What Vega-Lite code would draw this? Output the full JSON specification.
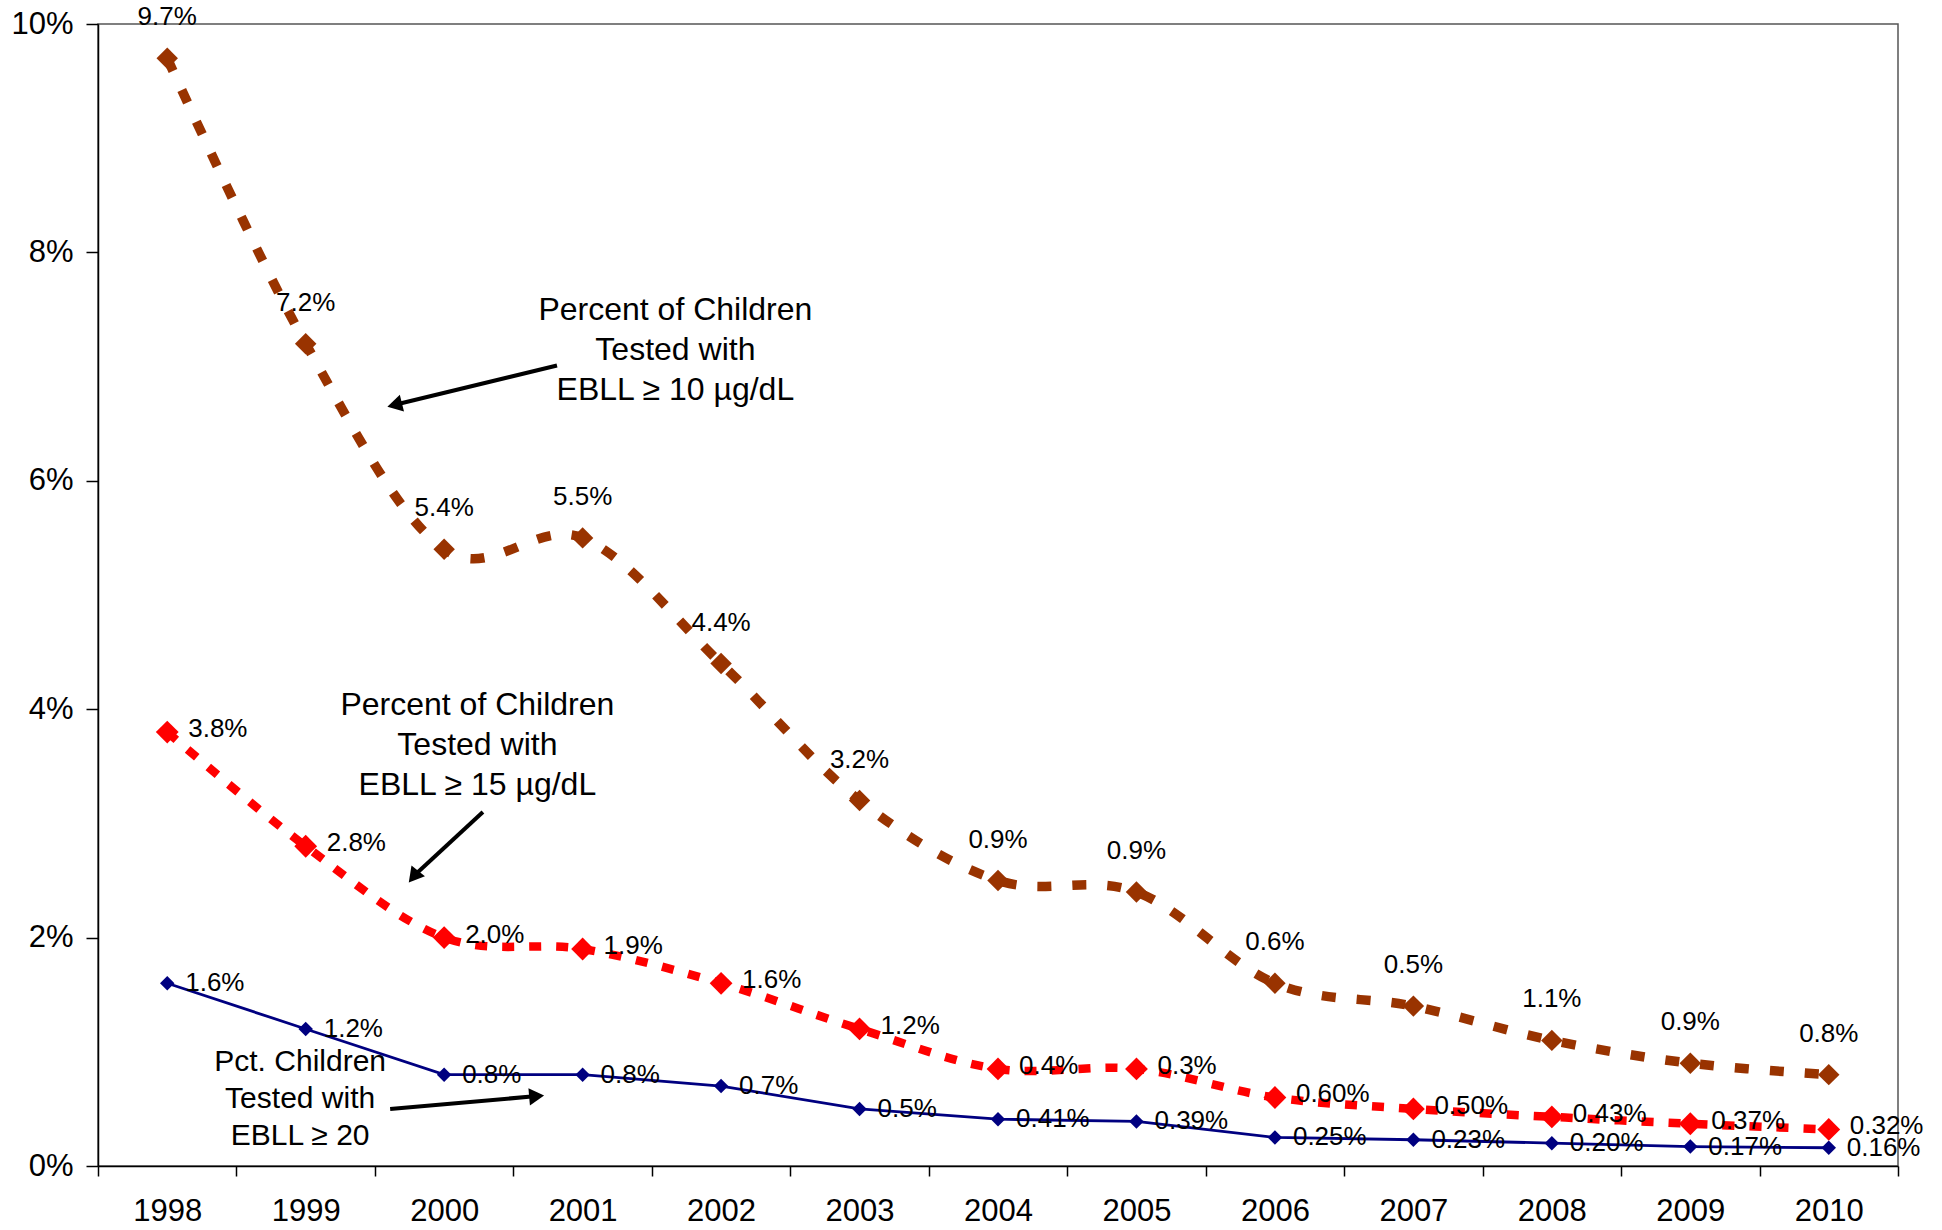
{
  "$schema": "https://vega.github.io/schema/vega-lite/v6.json",
  "width": 1800,
  "height": 1142,
  "autosize": {"type": "none"},
  "padding": {"left": 98, "top": 24, "right": 44, "bottom": 64},
  "background": "white",
  "config": {
    "font": "Liberation Sans",
    "view": {"stroke": "#555555", "strokeWidth": 1.5},
    "axis": {"grid": false, "title": null, "domainColor": "#000000", "tickColor": "#000000", "labelColor": "#000000", "domainWidth": 1.5, "tickWidth": 1.5, "labelFont": "Liberation Sans"}
  },
  "datasets": {
    "series": [
      {"year": 1998, "series": "EBLL10", "value": 9.7, "label": "9.7%"},
      {"year": 1999, "series": "EBLL10", "value": 7.2, "label": "7.2%"},
      {"year": 2000, "series": "EBLL10", "value": 5.4, "label": "5.4%"},
      {"year": 2001, "series": "EBLL10", "value": 5.5, "label": "5.5%"},
      {"year": 2002, "series": "EBLL10", "value": 4.4, "label": "4.4%"},
      {"year": 2003, "series": "EBLL10", "value": 3.2, "label": "3.2%"},
      {"year": 2004, "series": "EBLL10", "value": 2.5, "label": "0.9%"},
      {"year": 2005, "series": "EBLL10", "value": 2.4, "label": "0.9%"},
      {"year": 2006, "series": "EBLL10", "value": 1.6, "label": "0.6%"},
      {"year": 2007, "series": "EBLL10", "value": 1.4, "label": "0.5%"},
      {"year": 2008, "series": "EBLL10", "value": 1.1, "label": "1.1%"},
      {"year": 2009, "series": "EBLL10", "value": 0.9, "label": "0.9%"},
      {"year": 2010, "series": "EBLL10", "value": 0.8, "label": "0.8%"},
      {"year": 1998, "series": "EBLL15", "value": 3.8, "label": "3.8%"},
      {"year": 1999, "series": "EBLL15", "value": 2.8, "label": "2.8%"},
      {"year": 2000, "series": "EBLL15", "value": 2.0, "label": "2.0%"},
      {"year": 2001, "series": "EBLL15", "value": 1.9, "label": "1.9%"},
      {"year": 2002, "series": "EBLL15", "value": 1.6, "label": "1.6%"},
      {"year": 2003, "series": "EBLL15", "value": 1.2, "label": "1.2%"},
      {"year": 2004, "series": "EBLL15", "value": 0.85, "label": "0.4%"},
      {"year": 2005, "series": "EBLL15", "value": 0.85, "label": "0.3%"},
      {"year": 2006, "series": "EBLL15", "value": 0.6, "label": "0.60%"},
      {"year": 2007, "series": "EBLL15", "value": 0.5, "label": "0.50%"},
      {"year": 2008, "series": "EBLL15", "value": 0.43, "label": "0.43%"},
      {"year": 2009, "series": "EBLL15", "value": 0.37, "label": "0.37%"},
      {"year": 2010, "series": "EBLL15", "value": 0.32, "label": "0.32%"},
      {"year": 1998, "series": "EBLL20", "value": 1.6, "label": "1.6%"},
      {"year": 1999, "series": "EBLL20", "value": 1.2, "label": "1.2%"},
      {"year": 2000, "series": "EBLL20", "value": 0.8, "label": "0.8%"},
      {"year": 2001, "series": "EBLL20", "value": 0.8, "label": "0.8%"},
      {"year": 2002, "series": "EBLL20", "value": 0.7, "label": "0.7%"},
      {"year": 2003, "series": "EBLL20", "value": 0.5, "label": "0.5%"},
      {"year": 2004, "series": "EBLL20", "value": 0.41, "label": "0.41%"},
      {"year": 2005, "series": "EBLL20", "value": 0.39, "label": "0.39%"},
      {"year": 2006, "series": "EBLL20", "value": 0.25, "label": "0.25%"},
      {"year": 2007, "series": "EBLL20", "value": 0.23, "label": "0.23%"},
      {"year": 2008, "series": "EBLL20", "value": 0.2, "label": "0.20%"},
      {"year": 2009, "series": "EBLL20", "value": 0.17, "label": "0.17%"},
      {"year": 2010, "series": "EBLL20", "value": 0.16, "label": "0.16%"}
    ],
    "notes": [
      {"x": 2001.67, "y": 7.5, "text": "Percent of Children\nTested with\nEBLL ≥ 10 µg/dL"},
      {"x": 2000.24, "y": 4.035, "text": "Percent of Children\nTested with\nEBLL ≥ 15 µg/dL"}
    ],
    "notes2": [
      {"x": 1998.96, "y": 0.91, "text": "Pct. Children\nTested with\nEBLL ≥ 20"}
    ],
    "arrows": [
      {"id": "a10", "x": 2000.815, "y": 7.01, "x2": 1999.66, "y2": 6.67},
      {"id": "a15", "x": 2000.28, "y": 3.1, "x2": 1999.79, "y2": 2.55},
      {"id": "a20", "x": 1999.61, "y": 0.5, "x2": 2000.65, "y2": 0.61}
    ]
  },
  "encoding": {
    "x": {"field": "year", "type": "quantitative", "scale": {"domain": [1997.5, 2010.5], "nice": false, "zero": false},
      "axis": {"values": [1997.5, 1998, 1998.5, 1999, 1999.5, 2000, 2000.5, 2001, 2001.5, 2002, 2002.5, 2003, 2003.5, 2004, 2004.5, 2005, 2005.5, 2006, 2006.5, 2007, 2007.5, 2008, 2008.5, 2009, 2009.5, 2010, 2010.5],
        "labelExpr": "datum.value % 1 === 0 ? '' + datum.value : ''", "labelOverlap": false, "labelFlush": false,
        "tickOpacity": {"condition": {"test": "datum.value % 1 === 0", "value": 0}, "value": 1},
        "tickSize": 10, "labelPadding": 20, "labelFontSize": 31}},
    "y": {"field": "value", "type": "quantitative", "scale": {"domain": [0, 10], "nice": false},
      "axis": {"values": [0, 2, 4, 6, 8, 10], "labelExpr": "datum.value + '%'", "tickSize": 12, "labelPadding": 13, "labelFontSize": 31}}
  },
  "layer": [
    {"data": {"name": "series"}, "transform": [{"filter": "datum.series === 'EBLL10'"}],
      "mark": {"type": "line", "interpolate": "cardinal", "color": "#993300", "strokeWidth": 9.5, "strokeDash": [14, 21]}},
    {"data": {"name": "series"}, "transform": [{"filter": "datum.series === 'EBLL15'"}],
      "mark": {"type": "line", "interpolate": "cardinal", "color": "#FF0000", "strokeWidth": 8.5, "strokeDash": [12, 15]}},
    {"data": {"name": "series"}, "transform": [{"filter": "datum.series === 'EBLL20'"}],
      "mark": {"type": "line", "color": "#000080", "strokeWidth": 2.8}},
    {"data": {"name": "series"}, "transform": [{"filter": "datum.series === 'EBLL10'"}],
      "mark": {"type": "point", "shape": "diamond", "filled": true, "color": "#993300", "size": 460, "opacity": 1}},
    {"data": {"name": "series"}, "transform": [{"filter": "datum.series === 'EBLL15'"}],
      "mark": {"type": "point", "shape": "diamond", "filled": true, "color": "#FF0000", "size": 520, "opacity": 1}},
    {"data": {"name": "series"}, "transform": [{"filter": "datum.series === 'EBLL20'"}],
      "mark": {"type": "point", "shape": "diamond", "filled": true, "color": "#000080", "size": 210, "opacity": 1}},
    {"data": {"name": "series"}, "transform": [{"filter": "datum.series === 'EBLL10'"}],
      "mark": {"type": "text", "align": "center", "baseline": "middle", "dy": -41, "fontSize": 26, "color": "#000000"},
      "encoding": {"text": {"field": "label"}}},
    {"data": {"name": "series"}, "transform": [{"filter": "datum.series === 'EBLL15'"}],
      "mark": {"type": "text", "align": "left", "baseline": "middle", "dx": 21, "dy": -3, "fontSize": 26, "color": "#000000"},
      "encoding": {"text": {"field": "label"}}},
    {"data": {"name": "series"}, "transform": [{"filter": "datum.series === 'EBLL20'"}],
      "mark": {"type": "text", "align": "left", "baseline": "middle", "dx": 18, "fontSize": 26, "color": "#000000"},
      "encoding": {"text": {"field": "label"}}},
    {"data": {"name": "notes"},
      "mark": {"type": "text", "align": "center", "baseline": "middle", "fontSize": 32, "lineHeight": 40, "lineBreak": "\n", "color": "#000000"},
      "encoding": {"x": {"field": "x", "type": "quantitative"}, "y": {"field": "y", "type": "quantitative"}, "text": {"field": "text"}}},
    {"data": {"name": "notes2"},
      "mark": {"type": "text", "align": "center", "baseline": "middle", "fontSize": 30, "lineHeight": 37, "lineBreak": "\n", "color": "#000000"},
      "encoding": {"x": {"field": "x", "type": "quantitative"}, "y": {"field": "y", "type": "quantitative"}, "text": {"field": "text"}}},
    {"data": {"name": "arrows"},
      "mark": {"type": "rule", "color": "#000000", "strokeWidth": 4},
      "encoding": {"x": {"field": "x", "type": "quantitative"}, "y": {"field": "y", "type": "quantitative"}, "x2": {"field": "x2"}, "y2": {"field": "y2"}}},
    {"data": {"name": "arrows"}, "transform": [{"filter": "datum.id === 'a10'"}],
      "mark": {"type": "point", "shape": "triangle", "filled": true, "color": "#000000", "size": 300, "angle": 256, "opacity": 1},
      "encoding": {"x": {"field": "x2", "type": "quantitative"}, "y": {"field": "y2", "type": "quantitative"}}},
    {"data": {"name": "arrows"}, "transform": [{"filter": "datum.id === 'a15'"}],
      "mark": {"type": "point", "shape": "triangle", "filled": true, "color": "#000000", "size": 300, "angle": 219, "opacity": 1},
      "encoding": {"x": {"field": "x2", "type": "quantitative"}, "y": {"field": "y2", "type": "quantitative"}}},
    {"data": {"name": "arrows"}, "transform": [{"filter": "datum.id === 'a20'"}],
      "mark": {"type": "point", "shape": "triangle", "filled": true, "color": "#000000", "size": 300, "angle": 85, "opacity": 1},
      "encoding": {"x": {"field": "x2", "type": "quantitative"}, "y": {"field": "y2", "type": "quantitative"}}}
  ]
}
